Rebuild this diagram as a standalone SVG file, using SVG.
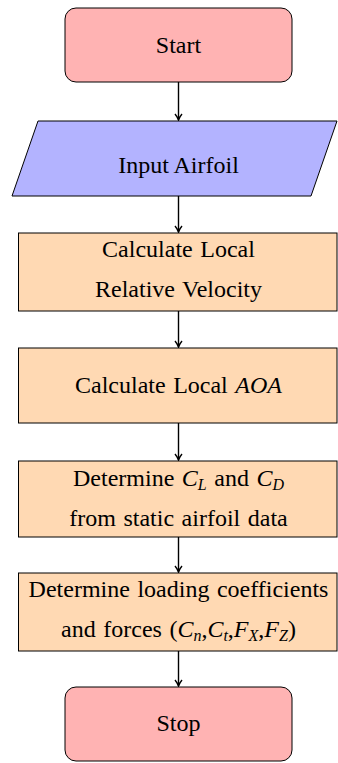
<svg xmlns="http://www.w3.org/2000/svg" width="338" height="763" viewBox="0 0 338 763">
<style>
.term{fill:#ffb3b3;stroke:#000;stroke-width:1}
.io{fill:#b3b3ff;stroke:#000;stroke-width:1}
.proc{fill:#ffd9b3;stroke:#000;stroke-width:1}
text{font-family:"Liberation Serif","Times New Roman",serif;font-size:24px;fill:#000;text-anchor:middle}
.cm{word-spacing:1.5px}
.m{font-style:italic}
.s{font-size:16px}
.edge{stroke:#000;stroke-width:1.4;fill:none;marker-end:url(#ah)}
</style>
<defs>
<marker id="ah" markerWidth="10" markerHeight="10" refX="7" refY="5" orient="auto" markerUnits="userSpaceOnUse">
<path d="M1,1.5 Q4,4 7,5 Q4,6 1,8.5" fill="none" stroke="#000" stroke-width="1.4"/>
</marker>
</defs>
<g id="connectors">
<line class="edge" x1="178.5" y1="82" x2="178.5" y2="120"/>
<line class="edge" x1="178.5" y1="196" x2="178.5" y2="232"/>
<line class="edge" x1="178.5" y1="311" x2="178.5" y2="347"/>
<line class="edge" x1="178.5" y1="423" x2="178.5" y2="460"/>
<line class="edge" x1="178.5" y1="537" x2="178.5" y2="572"/>
<line class="edge" x1="178.5" y1="651" x2="178.5" y2="686"/>
</g>
<g id="start">
<rect class="term" x="65" y="8" width="227" height="74" rx="11"/>
<text x="178.5" y="53">Start</text>
</g>
<g id="input">
<polygon class="io" points="38,121 337,121 311,196 12,196"/>
<text x="178.5" y="173">Input Airfoil</text>
</g>
<g id="velocity">
<rect class="proc" x="18.5" y="233" width="318.5" height="78"/>
<text class="cm" x="178.5" y="257">Calculate Local</text>
<text class="cm" x="178.5" y="297">Relative Velocity</text>
</g>
<g id="aoa">
<rect class="proc" x="18.5" y="348" width="318.5" height="75"/>
<text class="cm" x="178.5" y="393">Calculate Local <tspan class="m">AOA</tspan></text>
</g>
<g id="clcd">
<rect class="proc" x="18.5" y="461" width="318.5" height="76"/>
<text class="cm" x="178.5" y="486">Determine <tspan class="m">C</tspan><tspan class="m s" dy="4">L</tspan><tspan dy="-4"> and </tspan><tspan class="m">C</tspan><tspan class="m s" dy="4">D</tspan></text>
<text class="cm" x="178.5" y="526">from static airfoil data</text>
</g>
<g id="loads">
<rect class="proc" x="18.5" y="573" width="318.5" height="78"/>
<text class="cm" x="178.5" y="597">Determine loading coefficients</text>
<text class="cm" x="178.5" y="637">and forces (<tspan class="m">C</tspan><tspan class="m s" dy="4">n</tspan><tspan dy="-4">,</tspan><tspan class="m">C</tspan><tspan class="m s" dy="4">t</tspan><tspan dy="-4">,</tspan><tspan class="m">F</tspan><tspan class="m s" dy="4">X</tspan><tspan dy="-4">,</tspan><tspan class="m">F</tspan><tspan class="m s" dy="4">Z</tspan><tspan dy="-4">)</tspan></text>
</g>
<g id="stop">
<rect class="term" x="65" y="687" width="227" height="74" rx="11"/>
<text x="178.5" y="731">Stop</text>
</g>
</svg>
